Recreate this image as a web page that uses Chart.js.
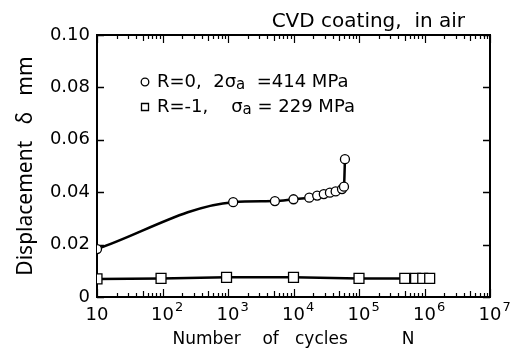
<!DOCTYPE html>
<html>
<head>
<meta charset="utf-8">
<script src="https://cdn.jsdelivr.net/npm/chart.js@4/dist/chart.umd.min.js"></script>
<style>
  body { margin: 0; background: #fff; }
  #wrap { width: 513px; height: 351px; }
</style>
</head>
<body>
<div id="wrap"><canvas id="chart" width="513" height="351"></canvas></div>
<script>
// data
const cyclesR0 = [10, 1200, 5200, 10000, 17400, 23000, 29000, 36000, 44000, 55000, 59000, 61000];
const dispR0 = [0.0183, 0.0362, 0.0366, 0.0373, 0.0379, 0.0387, 0.0393, 0.0398, 0.0403, 0.0412, 0.0421, 0.0526];
const cyclesR1 = [10, 95, 950, 10000, 100000, 500000, 730000, 940000, 1200000];
const dispR1 = [0.0069, 0.0071, 0.0075, 0.0075, 0.0071, 0.0071, 0.0071, 0.0071, 0.0071];

const labelR0 = 'R=0,  2σ_a  =414 MPa';
const labelR1 = 'R=-1,    σ_a = 229 MPa';

const xTickValues = [10, 1e2, 1e3, 1e4, 1e5, 1e6, 1e7];
const xTickExp = ['', '2', '3', '4', '5', '6', '7'];   // labels are 10 and 10^n
const yTickLabels = ['0', '0.02', '0.04', '0.06', '0.08', '0.10'];

const chartTitle = 'CVD coating,  in air';
const xTitle = 'Number    of   cycles          N';
const yTitle = 'Displacement   δ   mm';

const FONT = "'DejaVu Sans'";

// draw text, "_x" puts x as a subscript
function drawRich(ctx, text, x, y, size) {
    const parts = text.split(/(_\w)/);
    parts.forEach(p => {
        if (p.startsWith('_')) {
            ctx.font = `${size - 3}px ${FONT}`;
            ctx.fillText(p.slice(1), x, y + 3);
            x += ctx.measureText(p.slice(1)).width;
        } else if (p) {
            ctx.font = `${size}px ${FONT}`;
            ctx.fillText(p, x, y);
            x += ctx.measureText(p).width;
        }
    });
}

// frame with inward ticks, like the original plot
const framePlugin = {
    id: 'frame',
    beforeDatasetsDraw(chart) {
        const ctx = chart.ctx;
        const a = chart.chartArea;
        const xs = chart.scales.x;
        const ys = chart.scales.y;
        ctx.save();
        ctx.strokeStyle = '#000';
        ctx.lineWidth = 2;
        ctx.strokeRect(a.left, a.top, a.right - a.left, a.bottom - a.top);
        ctx.lineWidth = 1.2;
        ctx.beginPath();
        for (let d = 10; d < 1e7; d *= 10) {
            for (let k = 2; k <= 9; k++) {
                const px = Math.round(xs.getPixelForValue(d * k)) + 0.5;
                const len = k === 5 ? 6 : 4;
                ctx.moveTo(px, a.bottom);
                ctx.lineTo(px, a.bottom - len);
                ctx.moveTo(px, a.top);
                ctx.lineTo(px, a.top + len);
            }
        }
        xTickValues.forEach(v => {
            const px = Math.round(xs.getPixelForValue(v)) + 0.5;
            ctx.moveTo(px, a.bottom);
            ctx.lineTo(px, a.bottom - 8);
            ctx.moveTo(px, a.top);
            ctx.lineTo(px, a.top + 8);
        });
        ctx.stroke();
        ctx.lineWidth = 1.6;
        ctx.beginPath();
        ys.ticks.forEach(t => {
            const py = Math.round(ys.getPixelForValue(t.value)) + 0.5;
            ctx.moveTo(a.left, py);
            ctx.lineTo(a.left + 7, py);
            ctx.moveTo(a.right, py);
            ctx.lineTo(a.right - 7, py);
        });
        ctx.stroke();
        ctx.restore();
    },
    afterDraw(chart) {
        const ctx = chart.ctx;
        const a = chart.chartArea;
        const xs = chart.scales.x;
        ctx.save();
        ctx.fillStyle = '#000';
        ctx.textBaseline = 'middle';
        // x tick labels: 10, 10^2 ... with a real superscript
        xTickValues.forEach((v, i) => {
            const px = xs.getPixelForValue(v);
            ctx.font = `18px ${FONT}`;
            ctx.textAlign = 'center';
            ctx.fillText('10', px, a.bottom + 18);
            if (xTickExp[i]) {
                const w = ctx.measureText('10').width;
                ctx.font = `13px ${FONT}`;
                ctx.textAlign = 'left';
                ctx.fillText(xTickExp[i], px + w / 2 + 1, a.bottom + 11);
            }
        });
        // title, top right
        ctx.font = `20px ${FONT}`;
        ctx.textAlign = 'right';
        ctx.fillText(chartTitle, a.right - 25, 22);
        // legend inside the plot
        ctx.textAlign = 'left';
        chart.data.datasets.forEach((ds, i) => {
            const mx = a.left + 48;
            const my = a.top + 47 + i * 25;
            ctx.strokeStyle = '#000';
            ctx.fillStyle = '#fff';
            ctx.lineWidth = 1.3;
            ctx.beginPath();
            if (ds.pointStyle === 'rect') {
                ctx.rect(mx - 3.5, my - 3.5, 7, 7);
            } else {
                ctx.arc(mx, my, 3.8, 0, Math.PI * 2);
            }
            ctx.fill();
            ctx.stroke();
            ctx.fillStyle = '#000';
            drawRich(ctx, ds.label, mx + 12, my, 18);
        });
        ctx.restore();
    }
};

new Chart(document.getElementById('chart'), {
    type: 'line',
    data: {
        datasets: [
            {
                label: labelR0,
                data: cyclesR0.map((c, i) => ({ x: c, y: dispR0[i] })),
                borderColor: '#000',
                borderWidth: 2.5,
                cubicInterpolationMode: 'monotone',
                pointStyle: 'circle',
                pointRadius: 4.5,
                pointBorderWidth: 1.3,
                pointBackgroundColor: '#fff',
                pointBorderColor: '#000'
            },
            {
                label: labelR1,
                data: cyclesR1.map((c, i) => ({ x: c, y: dispR1[i] })),
                borderColor: '#000',
                borderWidth: 2.5,
                tension: 0,
                pointStyle: 'rect',
                pointRadius: 7,
                pointBorderWidth: 1.3,
                pointBackgroundColor: '#fff',
                pointBorderColor: '#000'
            }
        ]
    },
    options: {
        responsive: false,
        animation: false,
        layout: { padding: { left: 0, top: 35, right: 23, bottom: 0 } },
        plugins: {
            legend: { display: false },
            tooltip: { enabled: false }
        },
        scales: {
            x: {
                type: 'logarithmic',
                min: 10,
                max: 1e7,
                afterBuildTicks: scale => {
                    scale.ticks = xTickValues.map(v => ({ value: v }));
                },
                afterFit: scale => { scale.height = 54; },
                grid: { display: false, drawTicks: false },
                border: { display: false },
                ticks: { display: false },
                title: {
                    display: true,
                    text: xTitle,
                    color: '#000',
                    font: { family: 'DejaVu Sans', size: 17 },
                    padding: { top: 0, bottom: 1 }
                }
            },
            y: {
                min: 0,
                max: 0.1,
                afterFit: scale => { scale.width = 97; },
                grid: { display: false, drawTicks: false },
                border: { display: false },
                ticks: {
                    stepSize: 0.02,
                    color: '#000',
                    font: { family: 'DejaVu Sans', size: 18 },
                    padding: 7,
                    callback: (v, i) => yTickLabels[i]
                },
                title: {
                    display: true,
                    text: yTitle,
                    color: '#000',
                    font: { family: 'Noto Sans', size: 21 },
                    padding: { top: 13, bottom: 0 }
                }
            }
        }
    },
    plugins: [framePlugin]
});
</script>
</body>
</html>
